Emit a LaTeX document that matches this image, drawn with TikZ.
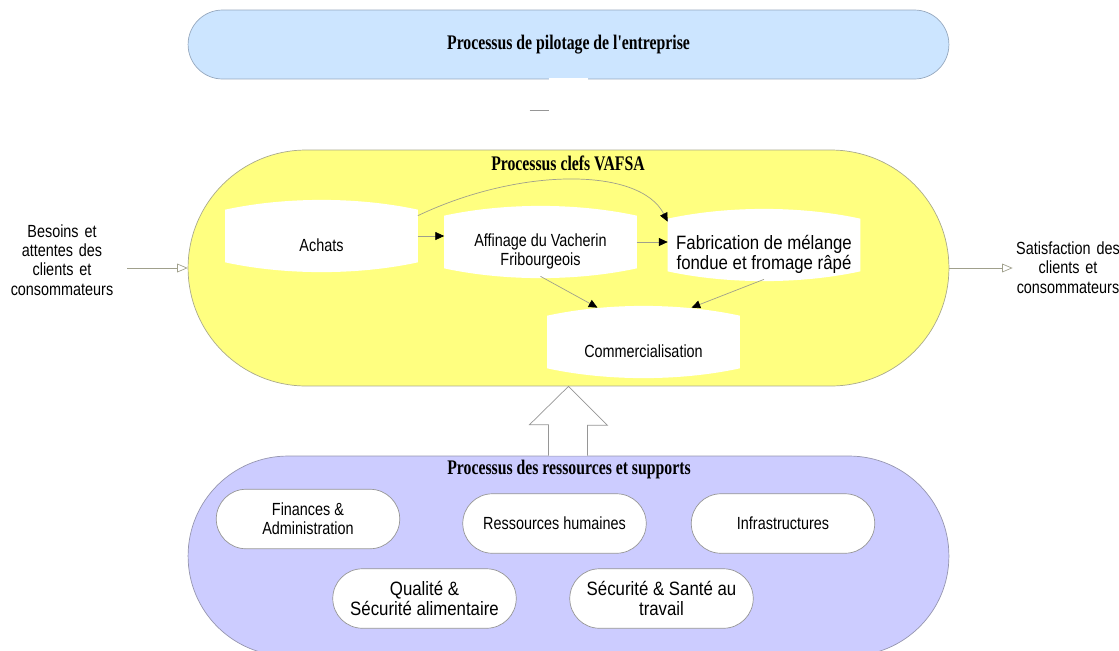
\documentclass[tikz,border=0pt]{standalone}
\usepackage{fontspec}
\setmainfont{Liberation Sans}
\newfontfamily\thinfont{Liberation Sans}[FakeStretch=0.82]
\newfontfamily\bodyfont{Liberation Sans}[FakeStretch=0.87]
\newfontfamily\titlefont{Liberation Serif}[FakeStretch=0.76]
\usetikzlibrary{arrows.meta,calc,backgrounds,shapes.misc}

\begin{document}
\begin{tikzpicture}[x=0.02cm, y=-0.02cm,
    %Option for arrows
    >={Triangle[length=5pt,width=4.5pt,color=black]}, %
    inner sep=0pt,%
    lane/.style={rounded rectangle, draw=#1, line width=0.4pt},
    title/.style={font=\titlefont\bfseries\fontsize{11.8}{13}\selectfont},
    barrel/.style={minimum width=3.84cm, minimum height=1.04cm},
    boxtext/.style={yshift=-0.19cm, align=center},
    thin/.style={font=\thinfont\fontsize{10}{11}\selectfont},
    body/.style={font=\bodyfont\fontsize{11}{11.5}\selectfont},
    task/.style={rounded rectangle, draw=taskgray, fill=white, line width=0.4pt,
        minimum width=3.67cm, minimum height=1.19cm, align=center},
    flow/.style={draw=flowgray, line width=0.4pt, ->},
    inout/.style={draw=flowgray, line width=0.4pt,
        -{Triangle[open,length=6pt,width=5pt]}},
    blockarrow/.style={draw=taskgray, fill=white, line width=0.4pt},
]
    % Colors
    \definecolor{pilotblue}{RGB}{204,229,255}
    \definecolor{pilotedge}{RGB}{150,168,190}
    \definecolor{keyyellow}{RGB}{255,255,128}
    \definecolor{keyedge}{RGB}{170,170,140}
    \definecolor{supportblue}{RGB}{204,204,255}
    \definecolor{supportedge}{RGB}{150,150,175}
    \definecolor{taskgray}{RGB}{150,150,150}
    \definecolor{flowgray}{RGB}{160,160,140}

    % Frame
    \useasboundingbox (0,0) rectangle (1119,650);

    % Pilotage
    \node[lane=pilotedge, fill=pilotblue, minimum width=15.22cm, minimum height=1.38cm,
        title] (pilot) at (568.5,44.5) {Processus de pilotage de l'entreprise};
    \draw[white, line width=1pt] ($(pilot.south)+(-20,0)$) -- ++(39,0);
    \draw[taskgray] ($(pilot.south)+(-39,31)$) -- ++(19,0);

    % Key processes
    \begin{scope}[on background layer]
        \node[lane=keyedge, fill=keyyellow, minimum width=15.22cm, minimum height=4.72cm]
            (cles) at (568.5,268) {};
    \end{scope}
    \node[title] (clestitle) at (568,163) {Processus clefs VAFSA};

    \node[barrel, label={[boxtext, thin]center:Achats}] (achats) at (321.5,236) {};
    \node[barrel, label={[boxtext, thin]center:{Affinage du Vacherin\\Fribourgeois}}]
        (affinage) at (540.5,242) {};
    \node[barrel, label={[boxtext, body]center:{Fabrication de mélange\\fondue et fromage râpé}}]
        (fab) at (764,245) {};
    \node[barrel, label={[boxtext, thin]center:Commercialisation}] (commerce) at (643.5,342) {};

    \begin{scope}[on background layer]
        \foreach \n in {achats,affinage,fab,commerce}
            \fill[white] (\n.north west) .. controls +(60,-13) and +(-60,-13) .. (\n.north east)
                -- (\n.south east) .. controls +(-60,13) and +(60,13) .. (\n.south west) -- cycle;
    \end{scope}

    \draw[flow] (achats.east) -- (achats.east -| affinage.west);
    \draw[flow] (affinage.east) -- (affinage.east -| fab.west);
    \draw[flow] ($(achats.north east)+(0,6)$) .. controls (520,167) and (640,167)
        .. ($(fab.north west)+(0,3)$);
    \draw[flow] ($(affinage.south)+(0,8)$) -- ($(commerce.north)+(-46,-8)$);
    \draw[flow] ($(fab.south)+(0,8)$) -- ($(commerce.north)+(48,-8)$);

    % Customers
    \node[thin, align=center, text width=2.6cm] (besoins) at (62,260)
        {Besoins et\\attentes des\\clients et\\consommateurs};
    \node[thin, align=center, text width=2.2cm] (satisf) at (1068,267.5)
        {Satisfaction des\\clients et\\consommateurs};
    \draw[inout] (cles.west -| besoins.east) -- (cles.west);
    \draw[inout] (cles.east) -- (cles.east -| satisf.west);

    % Resources and supports
    \node[lane=supportedge, fill=supportblue, minimum width=15.22cm, minimum height=4cm]
        (support) at (568.5,556) {};
    \node[title] (supporttitle) at (569,470) {Processus des ressources et supports};

    \node[task, thin] (fin) at (308,519) {Finances \&\\Administration};
    \node[task, thin] (rh) at (554.5,523.5) {Ressources humaines};
    \node[task, thin] (infra) at (783,523.5) {Infrastructures};
    \node[task, body] (qual) at (424.5,598.5) {Qualité \&\\Sécurité alimentaire};
    \node[task, body] (secu) at (661.5,598.5) {Sécurité \& Santé au\\travail};

    % Support arrow
    \draw[blockarrow] ($(support.north)+(-20,0)$) -- ++(0,-31) -- ++(-19,0) -- (cles.south)
        -- ++(39,39) -- ++(-20,0) -- ($(support.north)+(19,0)$);

\end{tikzpicture}
\end{document}
